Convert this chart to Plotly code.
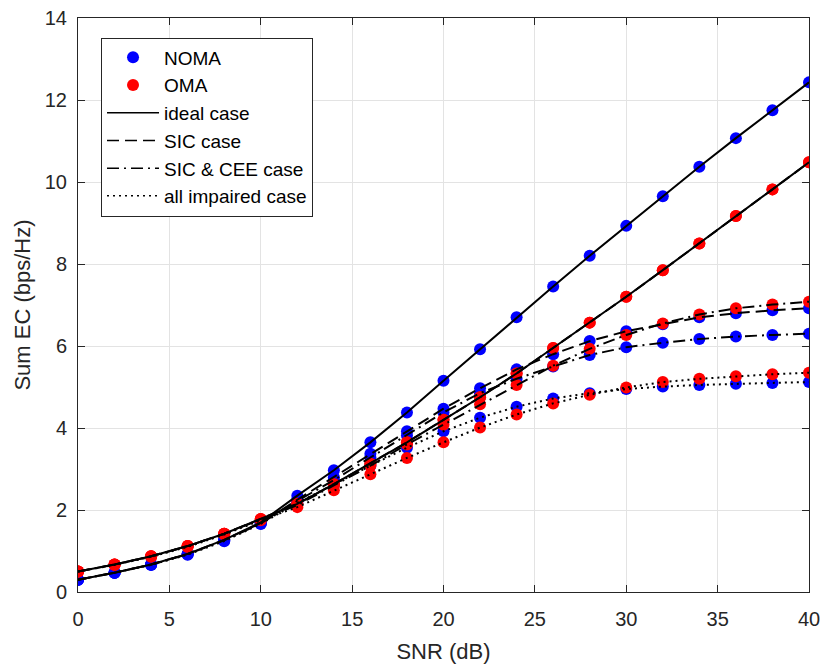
import plotly.graph_objects as go

snr = [0, 2, 4, 6, 8, 10, 12, 14, 16, 18, 20, 22, 24, 26, 28, 30, 32, 34, 36, 38, 40]

noma_ideal = [0.30, 0.47, 0.67, 0.93, 1.27, 1.70, 2.35, 2.97, 3.65, 4.38, 5.15, 5.92, 6.70, 7.45, 8.20, 8.93, 9.65, 10.37, 11.07, 11.75, 12.43]
noma_sic = [0.30, 0.47, 0.67, 0.93, 1.27, 1.68, 2.25, 2.80, 3.37, 3.92, 4.47, 4.97, 5.43, 5.80, 6.12, 6.36, 6.53, 6.70, 6.80, 6.87, 6.92]
noma_cee = [0.30, 0.47, 0.67, 0.92, 1.26, 1.67, 2.22, 2.73, 3.28, 3.82, 4.38, 4.85, 5.20, 5.50, 5.78, 5.97, 6.08, 6.17, 6.23, 6.27, 6.30]
noma_imp = [0.30, 0.47, 0.66, 0.91, 1.24, 1.66, 2.17, 2.63, 3.08, 3.52, 3.92, 4.25, 4.52, 4.72, 4.85, 4.95, 5.01, 5.05, 5.08, 5.10, 5.12]

oma_ideal = [0.50, 0.67, 0.87, 1.12, 1.42, 1.78, 2.15, 2.63, 3.13, 3.65, 4.20, 4.75, 5.33, 5.95, 6.57, 7.20, 7.85, 8.50, 9.17, 9.82, 10.48]
oma_sic = [0.50, 0.67, 0.87, 1.12, 1.42, 1.78, 2.15, 2.63, 3.13, 3.65, 4.20, 4.75, 5.33, 5.95, 6.57, 7.20, 7.85, 8.50, 9.17, 9.82, 10.48]
oma_cee = [0.50, 0.67, 0.87, 1.12, 1.42, 1.77, 2.12, 2.60, 3.08, 3.60, 4.08, 4.58, 5.05, 5.52, 5.93, 6.27, 6.55, 6.77, 6.92, 7.01, 7.08]
oma_imp = [0.50, 0.66, 0.86, 1.10, 1.40, 1.75, 2.07, 2.48, 2.87, 3.27, 3.65, 4.01, 4.33, 4.60, 4.81, 4.99, 5.12, 5.20, 5.26, 5.31, 5.35]

x_ticks = [0, 5, 10, 15, 20, 25, 30, 35, 40]
y_ticks = [0, 2, 4, 6, 8, 10, 12, 14]

NOMA_COLOR = "#0000ff"
OMA_COLOR = "#ff0000"
LINE_COLOR = "#000000"
MSIZE = 12
LW = 2

dash_styles = {
    "ideal case": "solid",
    "SIC case": "12px,6px",
    "SIC & CEE case": "12px,5px,2px,5px",
    "all impaired case": "2px,4px",
}

noma_series = [("ideal case", noma_ideal), ("SIC case", noma_sic), ("SIC & CEE case", noma_cee), ("all impaired case", noma_imp)]
oma_series = [("ideal case", oma_ideal), ("SIC case", oma_sic), ("SIC & CEE case", oma_cee), ("all impaired case", oma_imp)]

fig = go.Figure()

for name, vals in noma_series:
    fig.add_trace(go.Scatter(x=snr, y=vals, mode="markers",
                             marker=dict(color=NOMA_COLOR, size=MSIZE, line=dict(width=0)),
                             showlegend=False, hoverinfo="skip"))
for name, vals in oma_series:
    fig.add_trace(go.Scatter(x=snr, y=vals, mode="markers",
                             marker=dict(color=OMA_COLOR, size=MSIZE, line=dict(width=0)),
                             showlegend=False, hoverinfo="skip"))
for name, vals in noma_series + oma_series:
    fig.add_trace(go.Scatter(x=snr, y=vals, mode="lines",
                             line=dict(color=LINE_COLOR, width=LW, dash=dash_styles[name]),
                             showlegend=False, hoverinfo="skip"))

fig.add_trace(go.Scatter(x=[None], y=[None], mode="markers", name="NOMA",
                         marker=dict(color=NOMA_COLOR, size=MSIZE)))
fig.add_trace(go.Scatter(x=[None], y=[None], mode="markers", name="OMA",
                         marker=dict(color=OMA_COLOR, size=MSIZE)))
for name in dash_styles:
    fig.add_trace(go.Scatter(x=[None], y=[None], mode="lines", name=name,
                             line=dict(color=LINE_COLOR, width=1.5, dash=dash_styles[name])))

axis_common = dict(
    showgrid=True, gridcolor="#e3e3e3", gridwidth=1,
    showline=True, linecolor="#262626", linewidth=1,
    mirror="ticks", ticks="inside", ticklen=7, tickcolor="#262626",
    tickfont=dict(size=20, color="#262626"),
    zeroline=False, automargin=False, ticklabeloverflow="allow",
)

fig.update_layout(
    width=825, height=667,
    margin=dict(l=78, r=16, t=18, b=75),
    paper_bgcolor="white", plot_bgcolor="white",
    font=dict(family="Liberation Sans, Arial, sans-serif", color="#262626"),
    xaxis=dict(range=[0, 40], tickvals=x_ticks, ticklabelstandoff=9,
               title=dict(text="SNR (dB)", font=dict(size=22), standoff=14), **axis_common),
    yaxis=dict(range=[0, 14], tickvals=y_ticks, ticklabelstandoff=6,
               title=dict(text="Sum EC (bps/Hz)", font=dict(size=22), standoff=8), **axis_common),
    legend=dict(x=0.0315, y=0.966, xanchor="left", yanchor="top",
                bgcolor="white", bordercolor="#262626", borderwidth=1,
                font=dict(size=19, color="#000000"), itemwidth=52,
                traceorder="normal"),
)

fig.write_html("out.html", config={"displayModeBar": False},
               post_script="document.body.style.margin='0';document.body.style.overflow='hidden';")
